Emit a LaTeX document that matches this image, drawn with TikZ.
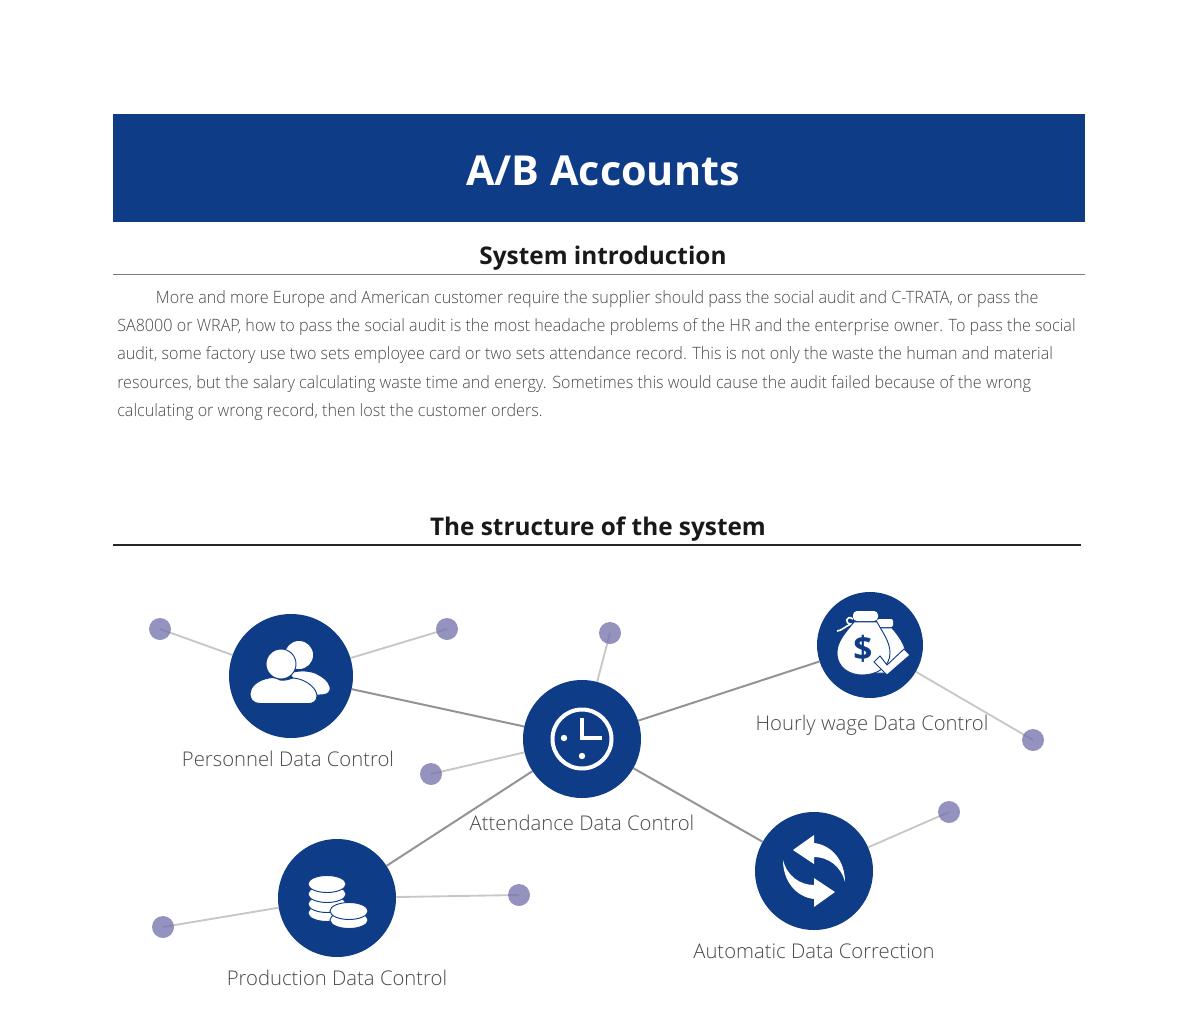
\documentclass[tikz,border=0pt]{standalone}
\usepackage{fontspec}
\setmainfont{Open Sans}[UprightFont=* Light,BoldFont=* Bold]
\newfontfamily\parafont{Open Sans}[UprightFont=* Light,FakeStretch=0.95]
\definecolor{hubblue}{HTML}{0F3C87}
\definecolor{dotviolet}{HTML}{7673AC}
\definecolor{bodygrey}{HTML}{4A4848}
\definecolor{ruletaupe}{HTML}{7F7874}
\usetikzlibrary{backgrounds,positioning}

\tikzset{
  hub/.style={circle,fill=hubblue,inner sep=0pt,minimum size=#1*0.75pt},
  leaf/.style={circle,fill=dotviolet,fill opacity=0.78,inner sep=0pt,minimum size=16.5pt},
  hubline/.style={draw=black!42,line width=1.5pt},
  leafline/.style={draw=black!22,line width=1.4pt},
  hublabel/.style={text=bodygrey,font=\fontsize{15.2}{18}\selectfont,inner sep=0pt},
  headline/.style={text=black!90,font=\fontsize{18.25}{22}\selectfont\bfseries,inner sep=0pt},
  iconcut/.style={fill=white,draw=hubblue,line width=0.7pt},
}

\begin{document}
\begin{tikzpicture}[x=0.75pt,y=-0.75pt]
  \path[use as bounding box] (0,0) rectangle (1200,1010);

  % header
  \node[fill=hubblue,minimum width=729pt,minimum height=81pt,inner sep=0pt] (banner) at (599,168) {};
  \node[text=white,font=\fontsize{31}{36}\selectfont\bfseries,inner sep=0pt] (title) at (603,171) {A/B Accounts};
  \node[headline] (intro) at (603,258.5) {System introduction};
  \coordinate (introL) at (113,274.5);
  \coordinate (introR) at (1085,274.5);
  \draw[draw=ruletaupe,line width=1.3pt] (introL)--(introR);
  \node[text=bodygrey,anchor=north west,inner sep=0pt,align=left,
        font=\parafont\fontsize{12.75}{21.3}\selectfont] (body) at (117,290)
     {\hspace*{29pt}More and more Europe and American customer require the supplier should pass the social audit and C-TRATA, or pass the\\
      SA8000 or WRAP, how to pass the social audit is the most headache problems of the HR and the enterprise owner. To pass the social\\
      audit, some factory use two sets employee card or two sets attendance record. This is not only the waste the human and material\\
      resources, but the salary calculating waste time and energy. Sometimes this would cause the audit failed because of the wrong\\
      calculating or wrong record, then lost the customer orders.};

  \node[headline] (struct) at (598,529) {The structure of the system};
  \coordinate (structL) at (113,545);
  \coordinate (structR) at (1081,545);
  \draw[draw=black!85,line width=1.4pt] (structL)--(structR);

  % hubs and leaves
  \node[hub=124] (pers) at (291,676) {};
  \node[hub=118] (att) at (582,739) {};
  \node[hub=106] (wage) at (870,645) {};
  \node[hub=118] (prod) at (337,898) {};
  \node[hub=118] (corr) at (814,871) {};

  \node[leaf] (d1) at (160,629) {};
  \node[leaf] (d2) at (447,629) {};
  \node[leaf] (d3) at (610,633) {};
  \node[leaf] (d4) at (431,774) {};
  \node[leaf] (d5) at (1033,740) {};
  \node[leaf] (d6) at (949,812) {};
  \node[leaf] (d7) at (519,895) {};
  \node[leaf] (d8) at (163,927) {};

  \node[hublabel] (persL) at (288,759) {Personnel Data Control};
  \node[hublabel] (attL) at (582,823) {Attendance Data Control};
  \node[hublabel] (wageL) at (872,725.5) {Hourly wage Data Control};
  \node[hublabel] (prodL) at (337,978) {Production Data Control};
  \node[hublabel] (corrL) at (814,951) {Automatic Data Correction};

  \begin{scope}[on background layer]
    \draw[hubline] (pers)--(att);
    \draw[hubline] (att)--(wage);
    \draw[hubline] (att)--(prod);
    \draw[hubline] (att)--(corr);
    \draw[leafline] (pers)--(d1.center);
    \draw[leafline] (pers)--(d2.center);
    \draw[leafline] (att)--(d3.center);
    \draw[leafline] (att)--(d4.center);
    \draw[leafline] (wage)--(d5.center);
    \draw[leafline] (corr)--(d6.center);
    \draw[leafline] (prod)--(d7.center);
    \draw[leafline] (prod)--(d8.center);
  \end{scope}

  % people
  \begin{scope}[shift={(pers)}]
    \fill[white] (8,-21) circle (14);
    \path[iconcut] (-2,-3) .. controls (8,-6) and (20,-6) .. (28,-1) .. controls (37,4) and (40,10) .. (39,14)
       .. controls (38,18) and (34,19) .. (28,19) -- (15,19) -- cycle;
    \path[iconcut] (-10,-12) circle (15);
    \path[iconcut] (-26,3) .. controls (-20,1) and (-16,1) .. (-11,4) .. controls (-6,5) and (-2,3) .. (2,2)
       .. controls (16,3) and (26,13) .. (26,20) .. controls (26,25) and (22,27.5) .. (18,27.5)
       -- (-31,27.5) .. controls (-38,27.5) and (-41,23) .. (-41,18) .. controls (-41,11) and (-34,5) .. (-26,3) -- cycle;
  \end{scope}

  % clock
  \begin{scope}[shift={(att)}]
    \draw[white,line width=3pt] (0,0) circle (29.5);
    \draw[white,line width=3pt] (0,-21)--(0,-1)--(20,-1);
    \fill[white] (-18,-1) circle (3.2);
    \fill[white] (0,17) circle (3.2);
  \end{scope}

  % money bags
  \begin{scope}[shift={(wage)}]
    \path[iconcut] (6,-17) -- (22,-17) .. controls (30,-8) and (36,2) .. (36,10) -- (18,28) -- (5,28) -- cycle;
    \fill[white,rounded corners=1.5pt] (7,-26) rectangle (23,-18);
    \draw[white,line width=1.2pt] (-17,-26) .. controls (-24,-31) and (-26,-21) .. (-19,-21)
       .. controls (-24,-19) and (-29,-14) .. (-33,-14);
    \fill[white,rounded corners=3pt] (-17,-34) rectangle (8,-24);
    \path[iconcut] (-16,-23) .. controls (-26,-11) and (-33,-3) .. (-33,8) .. controls (-33,23) and (-20,30) .. (-8,30)
       .. controls (7,30) and (20,22) .. (20,8) .. controls (20,-3) and (13,-12) .. (7,-23) -- cycle;
    \node[text=hubblue,font=\fontsize{25}{25}\selectfont\bfseries,inner sep=0pt] (dollar) at (-7,4) {\$};
    \path[iconcut] (4,17) -- (17,30) -- (40,10) -- (34,4) -- (17,20) -- (10,11) -- cycle;
  \end{scope}

  % coins
  \begin{scope}[shift={(prod)}]
    \foreach \ypos in {15,6,-4,-14}
      \path[iconcut] (-10,\ypos) ellipse (19 and 8.5);
    \foreach \ypos in {22,13}
      \path[iconcut] (12,\ypos) ellipse (19 and 8.5);
  \end{scope}

  % arrows
  \begin{scope}[shift={(corr)}]
    \foreach \ang in {0,180}
      \fill[white,rotate=\ang] (-21,-21) -- (0,-36) -- (0,-28) .. controls (18,-26) and (31,-10) .. (31,11)
         .. controls (27,-5) and (14,-14) .. (0,-14) -- (0,-7) -- cycle;
  \end{scope}
\end{tikzpicture}
\end{document}
